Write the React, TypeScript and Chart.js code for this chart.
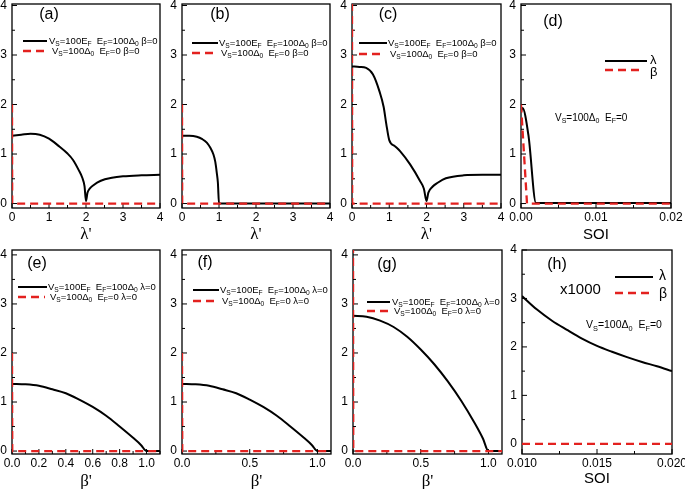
import React, { useEffect, useRef } from 'react';
import { Chart, registerables } from 'chart.js';
Chart.register(...registerables);

const SANS = "Arial, 'Liberation Sans', Helvetica, sans-serif";
const SERIF = "'Times New Roman', 'Liberation Serif', serif";
const RED = '#e3211f';

// ---------- tick labels ----------
const Y_TICKS = [0, 1, 2, 3, 4];
const Y_MINOR = [0.5, 1.5, 2.5, 3.5];
const LAMBDA_TICKS = [0, 1, 2, 3, 4];
const LAMBDA_MINOR = [0.5, 1.5, 2.5, 3.5];
const SOI_D_TICKS = [0, 0.01, 0.02];
const SOI_D_MINOR = [0.005, 0.015];
const BETA_E_TICKS = [0, 0.2, 0.4, 0.6, 0.8, 1.0];
const BETA_E_MINOR = [0.1, 0.3, 0.5, 0.7, 0.9, 1.1];
const BETA_FG_TICKS = [0, 0.5, 1.0];
const BETA_FG_MINOR = [0.25, 0.75];
const SOI_H_TICKS = [0.01, 0.015, 0.02];
const SOI_H_MINOR = [0.0125, 0.0175];

// ---------- data ----------
// (a)
const aX = [0, 0.25, 0.5, 0.75, 1.0, 1.25, 1.5, 1.65, 1.8, 1.9, 1.96, 2.0, 2.04, 2.1, 2.2, 2.4, 2.7, 3.0, 3.5, 4.0];
const aBlack = [1.37, 1.39, 1.41, 1.39, 1.31, 1.17, 1.01, 0.88, 0.68, 0.52, 0.35, 0.05, 0.22, 0.3, 0.37, 0.46, 0.52, 0.55, 0.57, 0.58];
const aRedX = [0, 0.005, 4];
const aRed = [2.0, 0, 0];
// (b)
const bX = [0, 0.2, 0.4, 0.55, 0.67, 0.77, 0.85, 0.9, 0.94, 0.97, 1.0, 4.0];
const bBlack = [1.37, 1.37, 1.35, 1.3, 1.23, 1.12, 0.99, 0.84, 0.62, 0.42, 0.0, 0.0];
const bRedX = [0, 0.005, 4];
const bRed = [2.0, 0, 0];
// (c)
const cX = [0, 0.2, 0.38, 0.56, 0.74, 0.85, 0.92, 1.0, 1.15, 1.29, 1.56, 1.83, 1.93, 2.0, 2.05, 2.16, 2.3, 2.52, 3.0, 3.5, 4.0];
const cBlack = [2.77, 2.76, 2.74, 2.61, 2.26, 1.95, 1.61, 1.28, 1.16, 1.06, 0.79, 0.45, 0.3, 0.05, 0.22, 0.34, 0.42, 0.51, 0.57, 0.58, 0.58];
const cRedX = [0, 0.005, 4];
const cRed = [4.05, 0, 0];
// (d)
const dBlackX = [0, 0.0002, 0.001, 0.002, 0.02];
const dBlack = [1.85, 1.93, 1.37, 0.01, 0.01];
const dRedX = [0, 0.0008, 0.02];
const dRed = [2.0, 0, 0];
// (e)
const eX = [0, 0.1, 0.2, 0.3, 0.4, 0.5, 0.6, 0.7, 0.8, 0.9, 0.96, 1.0, 1.1];
const eBlack = [1.37, 1.36, 1.33, 1.26, 1.18, 1.05, 0.9, 0.72, 0.5, 0.27, 0.12, 0.0, 0.0];
const eRedX = [0, 0.002, 1.1];
const eRed = [2.0, 0, 0];
// (f)
const fX = [0, 0.1, 0.2, 0.3, 0.4, 0.5, 0.6, 0.7, 0.8, 0.9, 0.96, 1.0, 1.1];
const fBlack = [1.37, 1.36, 1.33, 1.26, 1.18, 1.05, 0.9, 0.72, 0.5, 0.27, 0.12, 0.0, 0.0];
const fRedX = [0, 0.002, 1.1];
const fRed = [2.0, 0, 0];
// (g)
const gX = [0, 0.1, 0.2, 0.3, 0.4, 0.5, 0.6, 0.7, 0.8, 0.9, 0.96, 1.0, 1.1];
const gBlack = [2.76, 2.74, 2.66, 2.53, 2.33, 2.07, 1.77, 1.42, 1.02, 0.56, 0.25, 0.0, 0.0];
const gRedX = [0, 0.002, 1.1];
const gRed = [4.2, 0, 0];
// (h)
const hX = [0.01, 0.011, 0.012, 0.013, 0.014, 0.015, 0.016, 0.017, 0.018, 0.019, 0.02];
const hBlack = [3.05, 2.77, 2.54, 2.35, 2.17, 2.02, 1.9, 1.79, 1.69, 1.6, 1.5];
const hRedX = [0.01, 0.02];
const hRed = [0, 0];

// ---------- texts ----------
type Run = [string, number?];
const LEG1_B: Run[] = [['V'], ['S', 1], ['=100E'], ['F', 1], ['  E'], ['F', 1], ['=100Δ'], ['0', 1], [' β=0']];
const LEG2_B: Run[] = [['V'], ['S', 1], ['=100Δ'], ['0', 1], ['  E'], ['F', 1], ['=0 β=0']];
const LEG1_L: Run[] = [['V'], ['S', 1], ['=100E'], ['F', 1], ['  E'], ['F', 1], ['=100Δ'], ['0', 1], [' λ=0']];
const LEG2_L: Run[] = [['V'], ['S', 1], ['=100Δ'], ['0', 1], ['  E'], ['F', 1], ['=0 λ=0']];
const COND: Run[] = [['V'], ['S', 1], ['=100Δ'], ['0', 1], ['  E'], ['F', 1], ['=0']];

const pts = (xs: number[], ys: number[]) => xs.map((x, i) => ({ x, y: ys[i] }));
const f0 = (v: number) => String(Math.round(v));
const f1 = (v: number) => v.toFixed(1);
const f2 = (v: number) => v.toFixed(2);
const f3 = (v: number) => v.toFixed(3);

const TOPY: [number, number] = [-0.09, 4.03];
const BOTY: [number, number] = [-0.06, 4.1];
const LS = 9.5;

const SPECS: any[] = [
  {
    rect: [12, 4, 160, 208], xr: [0, 4], yr: TOPY, xMajor: LAMBDA_TICKS, xMinor: LAMBDA_MINOR, fmt: f0,
    title: "λ'", tFont: SERIF, tSize: 17, tY: 235, black: pts(aX, aBlack), red: pts(aRedX, aRed),
    notes: [
      { t: 'text', x: 49, y: 15, text: '(a)', size: 16 },
      { t: 'line', x0: 23, x1: 47, y: 41 },
      { t: 'rich', x: 49, y: 41, runs: LEG1_B, size: LS },
      { t: 'dash', x0: 23, x1: 46, y: 51 },
      { t: 'rich', x: 52, y: 51, runs: LEG2_B, size: LS },
    ],
  },
  {
    rect: [182, 4, 330, 208], xr: [0, 4], yr: TOPY, xMajor: LAMBDA_TICKS, xMinor: LAMBDA_MINOR, fmt: f0,
    title: "λ'", tFont: SERIF, tSize: 17, tY: 235, black: pts(bX, bBlack), red: pts(bRedX, bRed),
    notes: [
      { t: 'text', x: 220, y: 15, text: '(b)', size: 16 },
      { t: 'line', x0: 192, x1: 218, y: 43 },
      { t: 'rich', x: 219, y: 43, runs: LEG1_B, size: LS },
      { t: 'dash', x0: 192, x1: 216, y: 53 },
      { t: 'rich', x: 221, y: 53, runs: LEG2_B, size: LS },
    ],
  },
  {
    rect: [352, 4, 501, 208], xr: [0, 4], yr: TOPY, xMajor: LAMBDA_TICKS, xMinor: LAMBDA_MINOR, fmt: f0,
    title: "λ'", tFont: SERIF, tSize: 17, tY: 235, black: pts(cX, cBlack), red: pts(cRedX, cRed),
    notes: [
      { t: 'text', x: 388, y: 15, text: '(c)', size: 16 },
      { t: 'line', x0: 359, x1: 387, y: 43 },
      { t: 'rich', x: 388, y: 43, runs: LEG1_B, size: LS },
      { t: 'dash', x0: 359, x1: 385, y: 54 },
      { t: 'rich', x: 390, y: 54, runs: LEG2_B, size: LS },
    ],
  },
  {
    rect: [521, 4, 671, 208], xr: [0, 0.02], yr: TOPY, xMajor: SOI_D_TICKS, xMinor: SOI_D_MINOR, fmt: f2,
    title: 'SOI', tFont: SANS, tSize: 15, tY: 235, black: pts(dBlackX, dBlack), red: pts(dRedX, dRed),
    notes: [
      { t: 'text', x: 553, y: 22, text: '(d)', size: 16 },
      { t: 'line', x0: 605, x1: 647, y: 61 },
      { t: 'text', x: 650, y: 60, text: 'λ', size: 13, align: 'left' },
      { t: 'dash', x0: 605, x1: 640, y: 70 },
      { t: 'text', x: 650, y: 72, text: 'β', size: 13, align: 'left' },
      { t: 'rich', x: 555, y: 118, runs: COND, size: 10 },
    ],
  },
  {
    rect: [12, 250, 160, 454], xr: [0, 1.1], yr: BOTY, xMajor: BETA_E_TICKS, xMinor: BETA_E_MINOR, fmt: f1,
    title: "β'", tFont: SERIF, tSize: 17, tY: 482, black: pts(eX, eBlack), red: pts(eRedX, eRed),
    notes: [
      { t: 'text', x: 37, y: 264, text: '(e)', size: 16 },
      { t: 'line', x0: 18, x1: 47, y: 287 },
      { t: 'rich', x: 48, y: 287, runs: LEG1_L, size: LS },
      { t: 'dash', x0: 18, x1: 45, y: 297 },
      { t: 'rich', x: 50, y: 297, runs: LEG2_L, size: LS },
    ],
  },
  {
    rect: [182, 250, 331, 454], xr: [0, 1.1], yr: BOTY, xMajor: BETA_FG_TICKS, xMinor: BETA_FG_MINOR, fmt: f1,
    title: "β'", tFont: SERIF, tSize: 17, tY: 482, black: pts(fX, fBlack), red: pts(fRedX, fRed),
    notes: [
      { t: 'text', x: 205, y: 263, text: '(f)', size: 16 },
      { t: 'line', x0: 193, x1: 219, y: 290 },
      { t: 'rich', x: 220, y: 290, runs: LEG1_L, size: LS },
      { t: 'dash', x0: 193, x1: 217, y: 301 },
      { t: 'rich', x: 222, y: 301, runs: LEG2_L, size: LS },
    ],
  },
  {
    rect: [353, 250, 502, 454], xr: [0, 1.1], yr: BOTY, xMajor: BETA_FG_TICKS, xMinor: BETA_FG_MINOR, fmt: f1,
    title: "β'", tFont: SERIF, tSize: 17, tY: 482, black: pts(gX, gBlack), red: pts(gRedX, gRed),
    notes: [
      { t: 'text', x: 387, y: 265, text: '(g)', size: 16 },
      { t: 'line', x0: 367, x1: 390, y: 302 },
      { t: 'rich', x: 392, y: 302, runs: LEG1_L, size: LS },
      { t: 'dash', x0: 367, x1: 389, y: 311 },
      { t: 'rich', x: 394, y: 311, runs: LEG2_L, size: LS },
    ],
  },
  {
    rect: [522, 250, 672, 454], xr: [0.01, 0.02], yr: [-0.21, 4.0], xMajor: SOI_H_TICKS, xMinor: SOI_H_MINOR, fmt: f3,
    title: 'SOI', tFont: SANS, tSize: 15, tY: 479, black: pts(hX, hBlack), red: pts(hRedX, hRed),
    notes: [
      { t: 'text', x: 557, y: 265, text: '(h)', size: 16 },
      { t: 'line', x0: 615, x1: 653, y: 277 },
      { t: 'text', x: 659, y: 276, text: 'λ', size: 14, align: 'left' },
      { t: 'text', x: 560, y: 290, text: 'x1000', size: 15, align: 'left' },
      { t: 'dash', x0: 615, x1: 650, y: 293 },
      { t: 'text', x: 659, y: 294, text: 'β', size: 14, align: 'left' },
      { t: 'rich', x: 586, y: 325, runs: COND, size: 10.5 },
    ],
  },
];

const M = { l: 40, t: 20, r: 26, b: 54 };
const WY = 30;

function geom(s: any) {
  const [L, T, R, B] = s.rect;
  return { x: L - M.l, y: T - M.t, w: R - L + M.l + M.r, h: B - T + M.t + M.b };
}

function drawRich(ctx: CanvasRenderingContext2D, runs: Run[], x: number, y: number, size: number) {
  let cx = x;
  ctx.textAlign = 'left';
  ctx.textBaseline = 'middle';
  for (const [t, sub] of runs) {
    const fs = sub ? size * 0.7 : size;
    ctx.font = `${fs}px ${SANS}`;
    ctx.fillText(t, cx, sub ? y + size * 0.35 : y);
    cx += ctx.measureText(t).width;
  }
}

function makeChart(canvas: HTMLCanvasElement, s: any) {
  const [, , , B] = s.rect;
  const g = geom(s);
  const hx = s.tY - B + s.tSize / 2;
  const deco = {
    id: 'deco',
    beforeDatasetsDraw(chart: any) {
      const { ctx, chartArea: a, scales } = chart;
      const x = scales.x, y = scales.y;
      ctx.save();
      ctx.strokeStyle = '#000';
      ctx.lineWidth = 1.3;
      ctx.strokeRect(a.left, a.top, a.right - a.left, a.bottom - a.top);
      ctx.lineWidth = 1;
      ctx.beginPath();
      const xt = (vals: number[], len: number) => vals.forEach((v) => {
        const p = x.getPixelForValue(v);
        ctx.moveTo(p, a.bottom); ctx.lineTo(p, a.bottom - len);
      });
      const yt = (vals: number[], len: number) => vals.forEach((v) => {
        const p = y.getPixelForValue(v);
        ctx.moveTo(a.left, p); ctx.lineTo(a.left + len, p);
      });
      xt(s.xMajor, 5); xt(s.xMinor, 3); yt(Y_TICKS, 5); yt(Y_MINOR, 3);
      ctx.stroke();
      ctx.restore();
    },
    afterDatasetsDraw(chart: any) {
      const ctx: CanvasRenderingContext2D = chart.ctx;
      ctx.save();
      ctx.fillStyle = '#000';
      for (const n of s.notes) {
        if (n.t === 'text') {
          ctx.font = `${n.size}px ${SANS}`;
          ctx.textAlign = n.align || 'center';
          ctx.textBaseline = 'middle';
          ctx.fillText(n.text, n.x - g.x, n.y - g.y);
        } else if (n.t === 'rich') {
          drawRich(ctx, n.runs, n.x - g.x, n.y - g.y, n.size);
        } else {
          ctx.beginPath();
          ctx.strokeStyle = n.t === 'line' ? '#000' : RED;
          ctx.lineWidth = n.t === 'line' ? 2 : 2.3;
          ctx.setLineDash(n.t === 'line' ? [] : [8, 5]);
          ctx.moveTo(n.x0 - g.x, n.y - g.y);
          ctx.lineTo(n.x1 - g.x, n.y - g.y);
          ctx.stroke();
          ctx.setLineDash([]);
        }
      }
      ctx.restore();
    },
  };
  return new Chart(canvas, {
    type: 'line',
    data: {
      datasets: [
        { data: s.red, borderColor: RED, borderWidth: 2.3, borderDash: [8, 5], pointRadius: 0, tension: 0 },
        { data: s.black, borderColor: '#000', borderWidth: 2, pointRadius: 0, cubicInterpolationMode: 'monotone' },
      ],
    } as any,
    options: {
      animation: false,
      responsive: false,
      devicePixelRatio: 1,
      events: [],
      layout: { autoPadding: false, padding: { left: M.l - WY, top: M.t, right: M.r, bottom: M.b - hx } },
      plugins: { legend: { display: false }, tooltip: { enabled: false }, title: { display: false } },
      scales: {
        x: {
          type: 'linear', min: s.xr[0], max: s.xr[1],
          grid: { display: false, drawTicks: false, tickLength: 0 },
          border: { display: false },
          afterBuildTicks: (sc: any) => { sc.ticks = s.xMajor.map((v: number) => ({ value: v })); },
          afterFit: (sc: any) => { sc.height = hx; },
          ticks: { autoSkip: false, maxRotation: 0, padding: 2, color: '#000', font: { family: SANS, size: 12 }, callback: (v: any) => s.fmt(Number(v)) },
          title: { display: true, text: s.title, color: '#000', padding: 0, font: { family: s.tFont, size: s.tSize, lineHeight: 1 } },
        },
        y: {
          type: 'linear', min: s.yr[0], max: s.yr[1],
          grid: { display: false, drawTicks: false, tickLength: 0 },
          border: { display: false },
          afterBuildTicks: (sc: any) => { sc.ticks = Y_TICKS.map((v) => ({ value: v })); },
          afterFit: (sc: any) => { sc.width = WY; },
          ticks: { autoSkip: false, padding: 5, color: '#000', font: { family: SANS, size: 12 }, callback: (v: any) => f0(Number(v)) },
        },
      },
    } as any,
    plugins: [deco],
  });
}

export default function App() {
  const refs = useRef<(HTMLCanvasElement | null)[]>([]);
  useEffect(() => {
    const charts = SPECS.map((s, i) => makeChart(refs.current[i] as HTMLCanvasElement, s));
    return () => charts.forEach((c) => c.destroy());
  }, []);
  return (
    <div style={{ position: 'absolute', left: 0, top: 0, width: 685, height: 489, background: '#fff', overflow: 'hidden' }}>
      {SPECS.map((s, i) => {
        const g = geom(s);
        return (
          <canvas
            key={i}
            ref={(el) => { refs.current[i] = el; }}
            width={g.w}
            height={g.h}
            style={{ position: 'absolute', left: g.x, top: g.y, width: g.w, height: g.h }}
          />
        );
      })}
    </div>
  );
}
